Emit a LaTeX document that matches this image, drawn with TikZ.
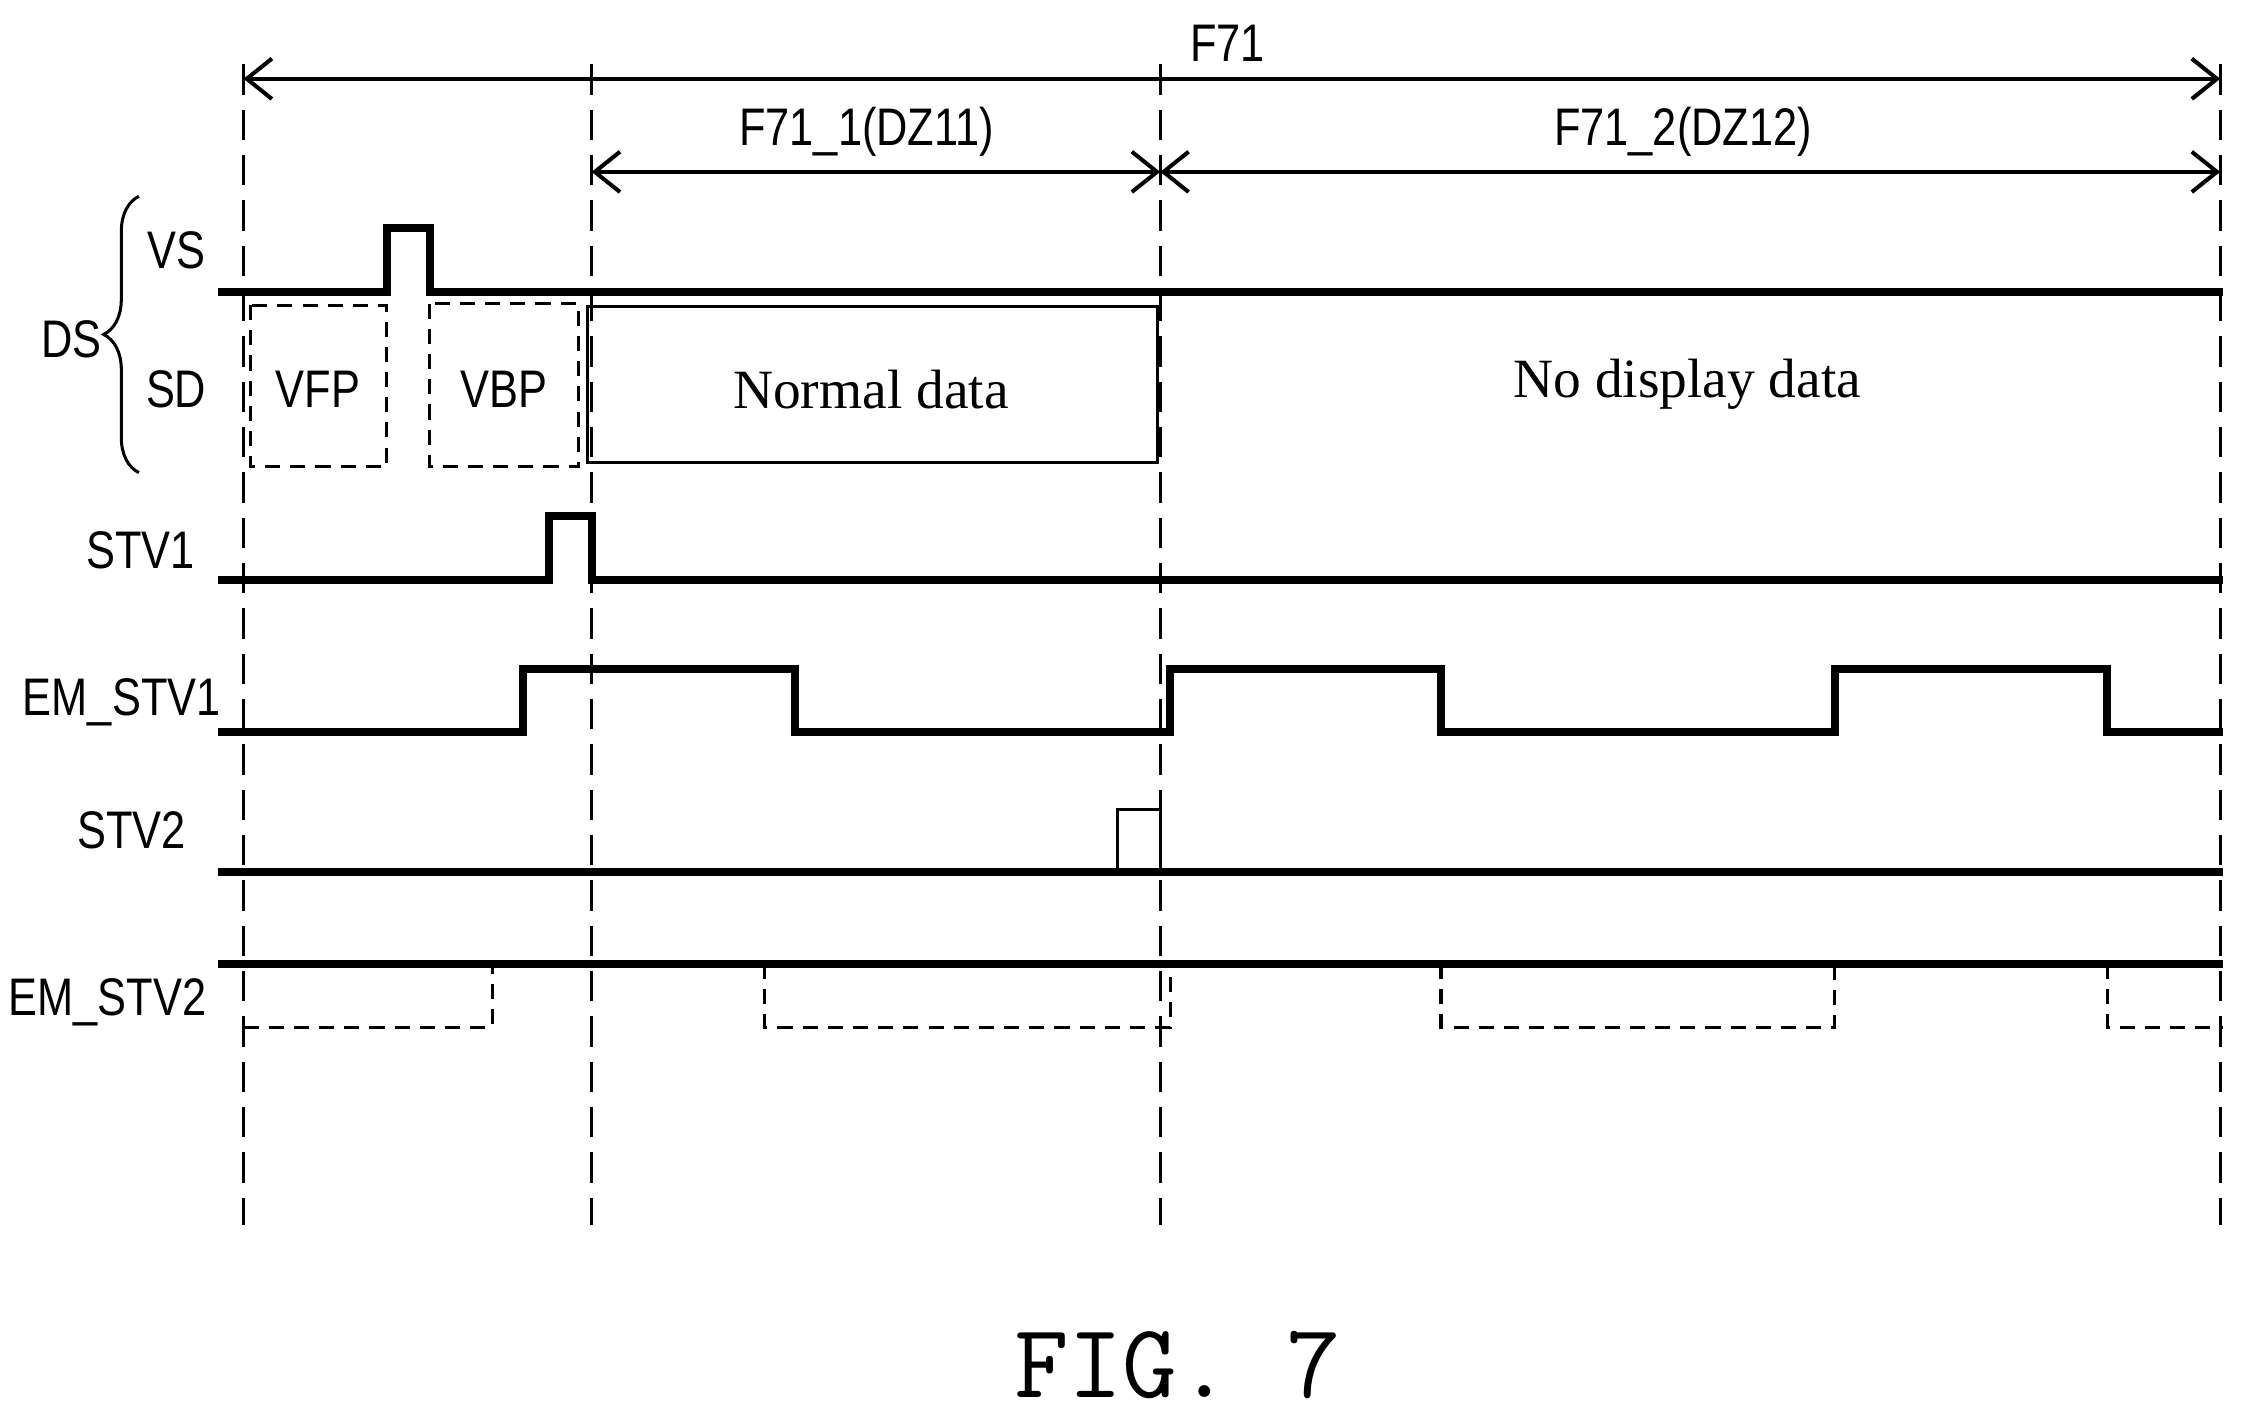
\documentclass[tikz,border=0pt]{standalone}
\usepackage{fontspec}
\setmainfont{Liberation Serif}
\setsansfont{Liberation Sans}
\usetikzlibrary{arrows.meta,decorations.pathreplacing}
\begin{document}
\begin{tikzpicture}[x=0.01cm,y=-0.01cm,
  sig/.style={line width=1.6pt},
  thin/.style={line width=0.6pt},
  guide/.style={line width=0.6pt,dash pattern=on 6pt off 3pt},
  dbox/.style={line width=0.6pt,dash pattern=on 3pt off 2pt},
  dim/.style={line width=0.8pt,{Straight Barb[length=5pt,width=8pt]}-{Straight Barb[length=5pt,width=8pt]}},
  lab/.style={font=\sffamily\fontsize{10.5}{12}\selectfont\addfontfeature{FakeStretch=0.82}},
  ser/.style={font=\fontsize{11}{13}\selectfont}]
\useasboundingbox (0,0) rectangle (1568,994);
% guides
\foreach \x/\n in {170/g1,413/g2,810/g3,1550/g4}{
  \coordinate (\n t) at (\x,45); \coordinate (\n b) at (\x,855);
  \draw[guide] (\n t) -- (\n b);}
% dimension arrows
\coordinate (a1) at (170,55); \coordinate (a2) at (1550,55);
\draw[dim] (a1) -- (a2);
\node[lab] (f71) at (857,30) {F71};
\coordinate (b1) at (413,120); \coordinate (b2) at (810,120); \coordinate (b3) at (1550,120);
\draw[dim] (b1) -- (b2);
\draw[dim] (b2) -- (b3);
\node[lab] (f711) at (605,92) {F71\_1(DZ11)};
\node[lab] (f712) at (1175,92) {F71\_2(DZ12)};
% labels
\node[lab] (vs) at (123,175) {VS};
\node[lab] (sd) at (123,272) {SD};
\node[lab] (ds) at (50,237) {DS};
\draw[thin,decorate,decoration={brace,amplitude=7pt}] (97,330) -- (97,137);
\node[lab] (stv1) at (98,384) {STV1};
\node[lab] (emstv1) at (85,490) {EM\_STV1};
\node[lab] (stv2) at (92,580) {STV2};
\node[lab] (emstv2) at (75,700) {EM\_STV2};
% VS
\draw[sig] (152,204) -- (270,204) -- (270,159) -- (300,159) -- (300,204) -- (1552,204);
% SD boxes
\draw[dbox] (175,213) rectangle (270,326);
\node[lab] (vfp) at (222,272) {VFP};
\draw[dbox] (300,212) rectangle (404,326);
\node[lab] (vbp) at (352,272) {VBP};
\draw[thin] (410,214) rectangle (808,323);
\node[ser] (nd) at (608,272) {Normal data};
\node[ser] (ndd) at (1178,268) {No display data};
% STV1
\draw[sig] (152,405) -- (383,405) -- (383,360) -- (413,360) -- (413,405) -- (1552,405);
% EM_STV1
\draw[sig] (152,511) -- (365,511) -- (365,467) -- (555,467) -- (555,511) -- (817,511) -- (817,467) -- (1006,467) -- (1006,511) -- (1281,511) -- (1281,467) -- (1471,467) -- (1471,511) -- (1552,511);
% STV2
\draw[sig] (152,609) -- (1552,609);
\draw[thin] (780,609) -- (780,565) -- (810,565) -- (810,609);
% EM_STV2
\draw[sig] (152,673) -- (1552,673);
\draw[dbox] (170,717) -- (344,717) -- (344,673);
\draw[dbox] (534,673) -- (534,717) -- (817,717) -- (817,673);
\draw[dbox] (1006,673) -- (1006,717) -- (1281,717) -- (1281,673);
\draw[dbox] (1471,673) -- (1471,717) -- (1552,717);
% caption
\node[font=\ttfamily\fontsize{21}{25}\selectfont] (fig) at (822,953) {FIG. 7};
\end{tikzpicture}
\end{document}
